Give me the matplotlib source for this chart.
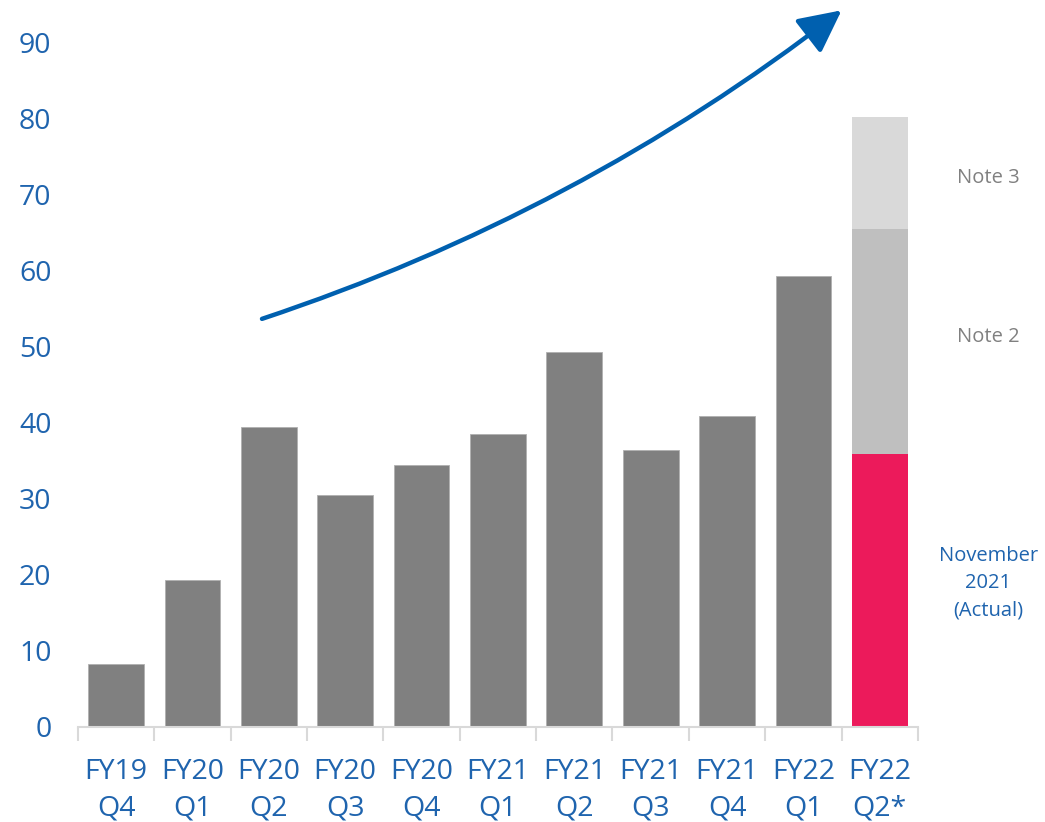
import matplotlib.pyplot as plt

plt.rcParams['font.family'] = ['Open Sans', 'DejaVu Sans']

quarters = ['FY19\nQ4', 'FY20\nQ1', 'FY20\nQ2', 'FY20\nQ3', 'FY20\nQ4',
            'FY21\nQ1', 'FY21\nQ2', 'FY21\nQ3', 'FY21\nQ4', 'FY22\nQ1', 'FY22\nQ2*']
history = [8.3, 19.3, 39.5, 30.5, 34.5, 38.6, 49.3, 36.4, 40.9, 59.3]

# last quarter is split into actual + two note segments
actual = 35.9
note2 = 29.6
note3 = 14.8

blue = '#1F64AE'
fig = plt.figure(figsize=(10.45, 8.22), dpi=100)
ax = fig.add_axes([0.0746, 0.1156, 0.8038, 0.8321])

x = list(range(len(quarters)))
w = 0.73
ax.bar(x[:-1], history, width=w, color='#808080', edgecolor='#B0B0B0', linewidth=0.6)
last = x[-1]
ax.bar(last, actual, width=w, color='#EC1A5B')
ax.bar(last, note2, bottom=actual, width=w, color='#BFBFBF')
ax.bar(last, note3, bottom=actual + note2, width=w, color='#D9D9D9')

ax.set_xlim(-0.5, len(quarters) - 0.5)
ax.set_ylim(0, 90)
ax.set_yticks(range(0, 91, 10))

for s in ['top', 'right', 'left']:
    ax.spines[s].set_visible(False)
ax.spines['bottom'].set_color('#D9D9D9')
ax.spines['bottom'].set_linewidth(1.5)

ax.set_xticks(x)
ax.set_xticklabels(quarters, linespacing=1.45)
ax.set_xticks([i - 0.5 for i in range(len(quarters) + 1)], minor=True)
ax.tick_params(axis='x', which='major', length=0, pad=22, labelsize=20.5, labelcolor=blue)
ax.tick_params(axis='x', which='minor', length=10, width=1.5, color='#D9D9D9')
ax.tick_params(axis='y', length=0, pad=19, labelsize=20.5, labelcolor=blue)

# growth arrow
ax.annotate('', xy=(9.5, 94.3), xytext=(1.91, 53.7),
            annotation_clip=False,
            arrowprops=dict(arrowstyle='-|>,head_length=1.3,head_width=0.65',
                            connectionstyle='arc3,rad=0.085',
                            color='#0060AF', lw=3.2, mutation_scale=20,
                            shrinkA=0, shrinkB=0))

ax.text(11.42, 72.2, 'Note 3', color='#808080', fontsize=14.5, ha='center', va='center')
ax.text(11.42, 51.3, 'Note 2', color='#808080', fontsize=14.5, ha='center', va='center')
ax.text(11.42, 18.9, 'November\n2021\n(Actual)', color=blue, fontsize=14.5,
        ha='center', va='center', linespacing=1.5)

fig.savefig('out.png', dpi=100)
